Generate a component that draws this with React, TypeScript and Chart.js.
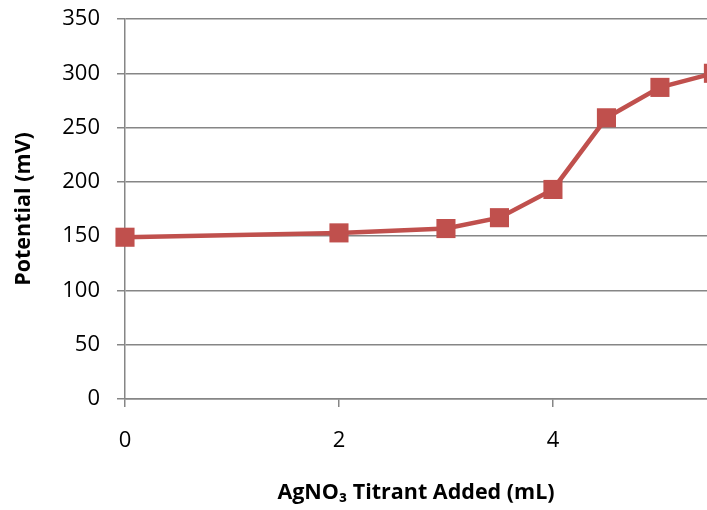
import React, { useEffect, useRef } from "react";
import { Chart, registerables } from "chart.js";

Chart.register(...registerables);

const titrantVolumes = [0, 2, 3, 3.5, 4, 4.5, 5, 5.5];
const potentials = [149, 153, 157, 167, 193, 259, 287, 300];
const xTickValues = [0, 2, 4];
const yTickValues = [0, 50, 100, 150, 200, 250, 300, 350];

const RED = "#C0504D";
const GRID = "#868686";
const FONT = "'Open Sans', 'Noto Sans', sans-serif";

export default function App() {
  const ref = useRef<HTMLCanvasElement | null>(null);
  useEffect(() => {
    if (!ref.current) return;
    const chart = new Chart(ref.current, {
      type: "line",
      data: {
        datasets: [
          {
            data: titrantVolumes.map((x, i) => ({ x, y: potentials[i] })),
            borderColor: RED,
            backgroundColor: RED,
            borderWidth: 4.5,
            pointStyle: "rect",
            pointRadius: 13.5,
            pointBorderWidth: 0,
            pointBackgroundColor: RED,
            tension: 0,
            clip: false as any,
          },
        ],
      },
      options: {
        responsive: false,
        animation: false,
        events: [],
        layout: { padding: { top: 19, right: 0, left: 0, bottom: 0 }, autoPadding: false },
        plugins: { legend: { display: false }, tooltip: { enabled: false } },
        scales: {
          x: {
            type: "linear",
            min: 0,
            max: 5.44,
            afterBuildTicks: (s: any) => {
              s.ticks = xTickValues.map((v) => ({ value: v }));
            },
            afterFit: (s: any) => {
              s.height = 111;
              s.paddingLeft = 0;
              s.paddingRight = 0;
            },
            grid: {
              drawOnChartArea: false,
              drawTicks: true,
              tickLength: 8,
              color: GRID,
              lineWidth: 1.5,
            },
            border: { color: GRID, width: 1.5 },
            ticks: {
              color: "#000",
              font: { family: FONT, size: 22 },
              padding: 21,
              maxRotation: 0,
            },
            title: {
              display: true,
              text: "AgNO₃ Titrant Added (mL)",
              color: "#000",
              font: { family: FONT, size: 21.5, weight: "bold" },
              padding: { top: 16, bottom: 4 },
            },
          },
          y: {
            type: "linear",
            min: 0,
            max: 350,
            afterBuildTicks: (s: any) => {
              s.ticks = yTickValues.map((v) => ({ value: v }));
            },
            afterFit: (s: any) => {
              s.width = 125;
              s.paddingTop = 0;
              s.paddingBottom = 0;
            },
            grid: {
              color: GRID,
              lineWidth: 1.5,
              drawTicks: true,
              tickLength: 8,
            },
            border: { color: GRID, width: 1.5 },
            ticks: {
              color: "#000",
              font: { family: FONT, size: 22 },
              padding: 17,
            },
            title: {
              display: true,
              text: "Potential (mV)",
              color: "#000",
              font: { family: FONT, size: 21.5, weight: "bold" },
              padding: { top: 11, bottom: 8 },
            },
          },
        },
      },
    });
    return () => chart.destroy();
  }, []);
  return (
    <div style={{ position: "absolute", left: 0, top: 0, width: 707, height: 510, overflow: "hidden" }}>
      <canvas ref={ref} width={707} height={510} style={{ width: 707, height: 510, display: "block" }} />
    </div>
  );
}
